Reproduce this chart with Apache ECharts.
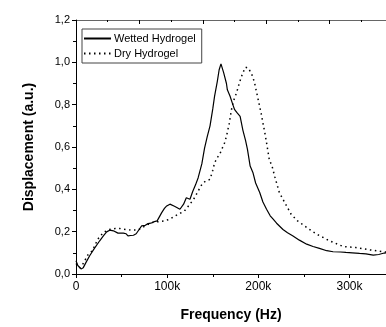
<!DOCTYPE html>
<html><head><meta charset="utf-8">
<script src="https://cdn.jsdelivr.net/npm/echarts@6/dist/echarts.min.js"></script>
<style>html,body{margin:0;padding:0;background:#fff}#c{width:386px;height:327px}</style>
</head><body><div id="c"></div>
<script>
// frequency in kHz, displacement in a.u.
const wettedData = [[0,0.063],[2,0.04],[5.5,0.024],[8,0.03],[11,0.055],[15,0.086],[20,0.12],[26,0.157],[30,0.18],[33.6,0.199],[37,0.207],[41,0.204],[43,0.21],[46,0.193],[52,0.193],[55,0.19],[57,0.18],[60,0.182],[63,0.183],[66,0.19],[68,0.196],[70,0.215],[72,0.227],[76,0.23],[79,0.238],[82,0.24],[85,0.246],[89,0.251],[91,0.255],[94,0.29],[97,0.31],[99,0.32],[103,0.33],[105,0.33],[108,0.32],[110,0.325],[114,0.306],[118,0.33],[121,0.36],[125,0.353],[128,0.39],[131,0.42],[134,0.455],[138,0.52],[141,0.595],[144,0.65],[147,0.70],[150,0.78],[152,0.84],[155,0.91],[157,0.965],[159,0.993],[160.5,0.993],[162,0.95],[165,0.90],[166,0.87],[169,0.84],[172,0.80],[174,0.776],[177,0.76],[180,0.745],[183,0.68],[186,0.63],[188,0.59],[191,0.51],[194,0.48],[197,0.43],[201.5,0.385],[205,0.34],[209,0.306],[213,0.275],[216,0.26],[220,0.24],[227,0.21],[232,0.195],[238,0.18],[245,0.16],[253,0.141],[260,0.13],[267,0.121],[275,0.11],[282,0.105],[290,0.104],[296,0.102],[303,0.1],[311,0.097],[318,0.095],[326,0.089],[332,0.092],[338,0.099],[340,0.1]];
const dryData = [[0,0.05],[4,0.03],[8,0.05],[13,0.09],[18,0.11],[24,0.165],[30,0.196],[36,0.21],[43,0.215],[48,0.215],[55,0.21],[61,0.207],[68,0.208],[75,0.225],[83,0.243],[90,0.247],[96,0.25],[103,0.259],[107,0.27],[112,0.282],[119,0.298],[125,0.33],[130,0.36],[135,0.40],[139,0.43],[143,0.44],[147,0.447],[150,0.49],[152,0.525],[155,0.55],[158,0.57],[163,0.62],[165,0.65],[168,0.71],[170.5,0.776],[173,0.82],[176,0.855],[179,0.9],[181.5,0.933],[184,0.96],[186,0.977],[189,0.973],[192,0.95],[194,0.93],[196,0.90],[198,0.86],[200,0.82],[203,0.76],[205,0.714],[207,0.67],[209,0.62],[212,0.54],[215,0.51],[218,0.46],[223,0.385],[229,0.337],[236,0.282],[243,0.251],[253,0.22],[264,0.188],[278,0.157],[293,0.13],[307,0.125],[322,0.114],[337,0.105],[340,0.104]];
const seriesNames = ['Wetted Hydrogel','Dry Hydrogel'];

const chart = echarts.init(document.getElementById('c'), null, {renderer:'canvas'});
const font = 'Liberation Sans, Arial, sans-serif';
chart.setOption({
  animation:false,
  grid:{left:76, top:20, right:0, bottom:52},
  legend:{
    left:82, top:29, orient:'vertical', itemWidth:27, itemHeight:10, itemGap:4,
    padding:[4,6,4,1], borderColor:'#444', borderWidth:1,
    itemStyle:{opacity:0},
    textStyle:{fontFamily:font, fontSize:11, color:'#000', padding:[0,0,0,-2]},
    data:seriesNames
  },
  xAxis:[{
    type:'value', min:0, max:340, interval:100,
    axisLine:{lineStyle:{color:'#000', width:1}},
    axisTick:{inside:false, length:4, lineStyle:{color:'#000'}},
    minorTick:{show:true, splitNumber:2, length:3, lineStyle:{color:'#000'}},
    splitLine:{show:false},
    axisLabel:{fontFamily:font, fontSize:12, color:'#000', margin:7, showMaxLabel:false,
      formatter:v=> v===0 ? '0' : v+'k'},
    name:'Frequency (Hz)', nameLocation:'middle', nameGap:34,
    nameTextStyle:{fontFamily:font, fontSize:14, fontWeight:'bold', color:'#000'}
  },{
    type:'value', position:'top', min:0, max:4.888, interval:1,
    axisLine:{show:true, lineStyle:{color:'#666', width:1}},
    axisTick:{inside:true, length:4, lineStyle:{color:'#000'}},
    minorTick:{show:true, splitNumber:2, length:2, lineStyle:{color:'#000'}},
    splitLine:{show:false}, axisLabel:{show:false}
  }],
  yAxis:{
    type:'value', min:0, max:1.2, interval:0.2,
    axisLine:{show:true, lineStyle:{color:'#000', width:1}},
    axisTick:{show:true, inside:false, length:4, lineStyle:{color:'#000'}},
    minorTick:{show:true, splitNumber:2, length:3, lineStyle:{color:'#000'}},
    splitLine:{show:false},
    axisLabel:{fontFamily:font, fontSize:11, color:'#000', margin:6,
      formatter:v=>v.toFixed(1).replace('.',',')},
    name:'Displacement (a.u.)', nameLocation:'middle', nameGap:40,
    nameTextStyle:{fontFamily:font, fontSize:14, fontWeight:'bold', color:'#000'}
  },
  series:[{
    name:seriesNames[0], type:'line', data:wettedData, symbol:'none', xAxisIndex:0,
    lineStyle:{color:'#000', width:1.2, type:'solid'}, itemStyle:{color:'#000'}
  },{
    name:seriesNames[1], type:'line', data:dryData, symbol:'none', xAxisIndex:0,
    lineStyle:{color:'#000', width:1.5, type:[1.5,3.5]}, itemStyle:{color:'#000'}
  }]
});
</script></body></html>
